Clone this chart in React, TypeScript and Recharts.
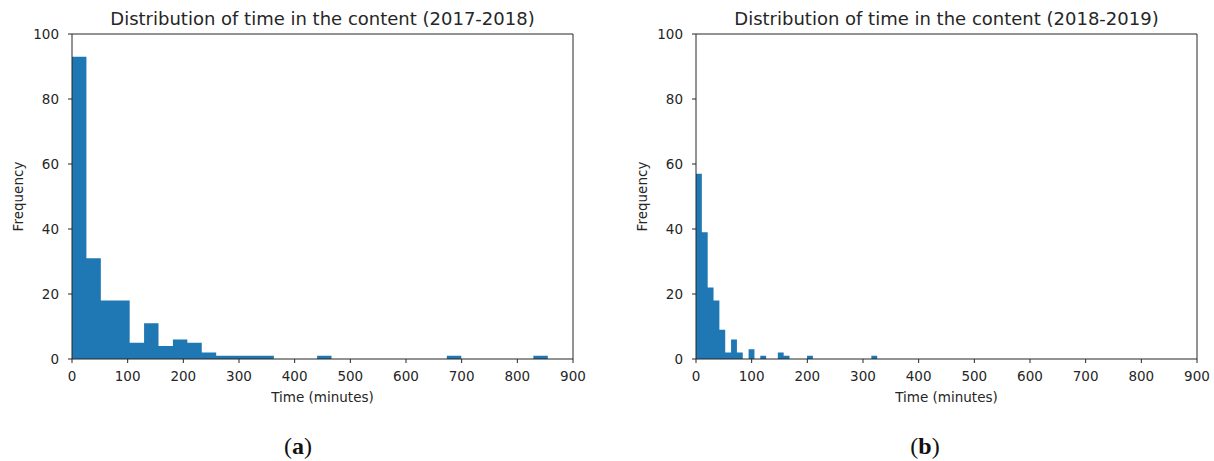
import React from 'react';
import { ComposedChart, Area, XAxis, YAxis, Label } from 'recharts';

// ─── Histogram data ─────────────────────────────────────────────
// Counts per bin.
const TITLE_A = 'Distribution of time in the content (2017-2018)';
const TITLE_B = 'Distribution of time in the content (2018-2019)';

const BIN_WIDTH_A = 25.9; // minutes
const BIN_COUNTS_A = [
    93, 31, 18, 18, 5, 11, 4, 6, 5, 2,
    1, 1, 1, 1, 0, 0, 0, 1, 0, 0,
    0, 0, 0, 0, 0, 0, 1, 0, 0, 0,
    0, 0, 1,
];

const BIN_WIDTH_B = 10.5; // minutes
const BIN_COUNTS_B = [
    57, 39, 22, 18, 9, 2, 6, 2, 0, 3,
    0, 1, 0, 0, 2, 1, 0, 0, 0, 1,
    0, 0, 0, 0, 0, 0, 0, 0, 0, 0,
    1,
];

const X_TICKS = [0, 100, 200, 300, 400, 500, 600, 700, 800, 900];
const Y_TICKS = [0, 20, 40, 60, 80, 100];

// ─── Layout ────────────────────────────────────────────────────
const CHART_W = 600;
const CHART_H = 420;
const TOP = 34;
const Y_AXIS_W = 72;
const X_AXIS_H = 30;
const PLOT_H = 325;
const BAR_COLOR = '#1f77b4';
const INK = '#262626';
const FONT = '"DejaVu Sans", sans-serif';

// step points: left edge of each bin, plus a closing point at the last edge
function toSteps(counts: number[], width: number) {
    const pts = counts.map((c, i) => ({ x: i * width, y: c }));
    pts.push({ x: counts.length * width, y: 0 });
    return pts;
}

function Histogram({ title, counts, binWidth }: { title: string; counts: number[]; binWidth: number }) {
    const data = toSteps(counts, binWidth);
    const tickStyle = { fill: INK, fontSize: 13.5, fontFamily: FONT };

    return (
        <ComposedChart
            width={CHART_W}
            height={CHART_H}
            data={data}
            margin={{ top: TOP - 1, right: 26, left: 0, bottom: CHART_H - TOP - PLOT_H - X_AXIS_H }}
        >
            <XAxis
                xAxisId="b"
                type="number"
                dataKey="x"
                domain={[0, 900]}
                ticks={X_TICKS}
                allowDataOverflow
                height={X_AXIS_H}
                stroke={INK}
                tickSize={4}
                tickMargin={8}
                tick={tickStyle}
            >
                <Label
                    content={(props: any) => {
                        const vb = props.viewBox || {};
                        return (
                            <text
                                x={vb.x + vb.width / 2}
                                y={vb.y + 43}
                                textAnchor="middle"
                                fill={INK}
                                fontSize={13.5}
                                fontFamily={FONT}
                            >
                                Time (minutes)
                            </text>
                        );
                    }}
                />
            </XAxis>
            {/* top spine + title */}
            <XAxis
                xAxisId="t"
                orientation="top"
                type="number"
                dataKey="x"
                domain={[0, 900]}
                ticks={X_TICKS}
                allowDataOverflow
                height={1}
                stroke={INK}
                tick={false}
                tickLine={false}
            >
                <Label
                    content={(props: any) => {
                        const vb = props.viewBox || {};
                        return (
                            <text
                                x={vb.x + vb.width / 2}
                                y={TOP - 9}
                                textAnchor="middle"
                                fill={INK}
                                fontSize={18}
                                fontFamily={FONT}
                            >
                                {title}
                            </text>
                        );
                    }}
                />
            </XAxis>
            <YAxis
                yAxisId="l"
                type="number"
                domain={[0, 100]}
                ticks={Y_TICKS}
                allowDataOverflow
                width={Y_AXIS_W}
                stroke={INK}
                tickSize={4}
                tickMargin={9}
                tick={tickStyle}
            >
                <Label
                    content={(props: any) => {
                        const vb = props.viewBox || {};
                        const cx = 18;
                        const cy = vb.y + vb.height / 2;
                        return (
                            <text
                                x={cx}
                                y={cy}
                                transform={`rotate(-90 ${cx} ${cy})`}
                                textAnchor="middle"
                                dominantBaseline="central"
                                fill={INK}
                                fontSize={13.5}
                                fontFamily={FONT}
                            >
                                Frequency
                            </text>
                        );
                    }}
                />
            </YAxis>
            {/* right spine */}
            <YAxis
                yAxisId="r"
                orientation="right"
                type="number"
                domain={[0, 100]}
                width={1}
                stroke={INK}
                tick={false}
                tickLine={false}
            />
            <Area
                xAxisId="b"
                yAxisId="l"
                type="stepAfter"
                dataKey="y"
                stroke="none"
                fill={BAR_COLOR}
                fillOpacity={1}
                baseValue={0}
                dot={false}
                activeDot={false}
                isAnimationActive={false}
            />
        </ComposedChart>
    );
}

export default function App() {
    const caption: React.CSSProperties = {
        position: 'absolute',
        top: 433,
        width: 60,
        textAlign: 'center',
        fontFamily: '"Liberation Serif", serif',
        fontSize: 24,
        color: '#111',
    };

    return (
        <div style={{ position: 'absolute', left: 0, top: 0, width: 1214, height: 461, background: '#fff', overflow: 'hidden' }}>
            <div style={{ position: 'absolute', left: 0, top: 0 }}>
                <Histogram title={TITLE_A} counts={BIN_COUNTS_A} binWidth={BIN_WIDTH_A} />
            </div>
            <div style={{ position: 'absolute', left: 624, top: 0 }}>
                <Histogram title={TITLE_B} counts={BIN_COUNTS_B} binWidth={BIN_WIDTH_B} />
            </div>
            <div style={{ ...caption, left: 268 }}>
                (<b>a</b>)
            </div>
            <div style={{ ...caption, left: 895 }}>
                (<b>b</b>)
            </div>
        </div>
    );
}
